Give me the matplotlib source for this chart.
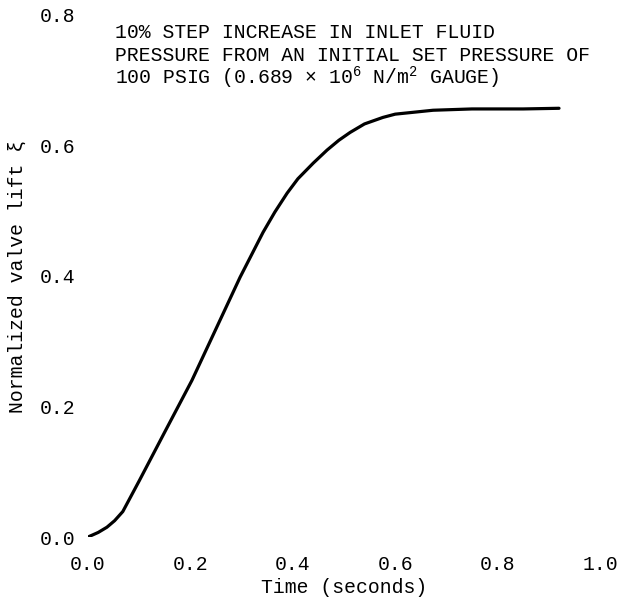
#!/usr/bin/env python3

import matplotlib

matplotlib.use("Agg")
import matplotlib.pyplot as plt

# Valve lift response
time_s = [0.0, 0.02, 0.037, 0.052, 0.068, 0.10, 0.15, 0.203, 0.25, 0.297,
          0.342, 0.365, 0.389, 0.41, 0.44, 0.467, 0.49, 0.512, 0.54, 0.576,
          0.60, 0.674, 0.75, 0.85, 0.92]
lift = [0.0, 0.007, 0.015, 0.025, 0.039, 0.086, 0.161, 0.24, 0.319, 0.398,
        0.467, 0.498, 0.527, 0.549, 0.573, 0.593, 0.608, 0.62, 0.633, 0.643,
        0.648, 0.654, 0.656, 0.656, 0.657]

x_ticks = [0.0, 0.2, 0.4, 0.6, 0.8, 1.0]
y_ticks = [0.0, 0.2, 0.4, 0.6, 0.8]

note_lines = [
    "10% STEP INCREASE IN INLET FLUID",
    "PRESSURE FROM AN INITIAL SET PRESSURE OF",
    "100 PSIG (0.689 \u00d7 10$^{6}$ N/m$^{2}$ GAUGE)",
]

FONT = ["Liberation Mono", "DejaVu Sans Mono"]
FS = 14.2
plt.rcParams["font.family"] = FONT
plt.rcParams["mathtext.fontset"] = "custom"
plt.rcParams["mathtext.rm"] = "Liberation Mono"
plt.rcParams["mathtext.default"] = "rm"

fig = plt.figure(figsize=(6.24, 5.99), dpi=100)
ax = fig.add_axes([0.141, 0.1035, 0.8205, 0.8715])

ax.plot(time_s, lift, color="black", linewidth=2.3,
        solid_capstyle="round", solid_joinstyle="round")

ax.set_xlim(0.0, 1.0)
ax.set_ylim(0.0, 0.8)
ax.set_xticks(x_ticks)
ax.set_yticks(y_ticks)
ax.set_xticklabels([f"{v:.1f}" for v in x_ticks])
ax.set_yticklabels([f"{v:.1f}" for v in y_ticks])
ax.tick_params(axis="x", length=0, pad=13, labelsize=FS)
ax.tick_params(axis="y", length=0, pad=9, labelsize=FS)
for spine in ax.spines.values():
    spine.set_visible(False)

ax.set_xlabel("Time (seconds)", fontsize=FS, labelpad=3)
ax.set_ylabel("Normalized valve lift \u03be", fontsize=FS)
ax.yaxis.set_label_coords(-0.12, 0.5)

# three typed lines of the note, one text each
for line, y in zip(note_lines, [0.956, 0.912, 0.868]):
    ax.text(0.053, y, line, transform=ax.transAxes, fontsize=FS,
            va="baseline", ha="left")

plt.savefig("out.png", dpi=100)
